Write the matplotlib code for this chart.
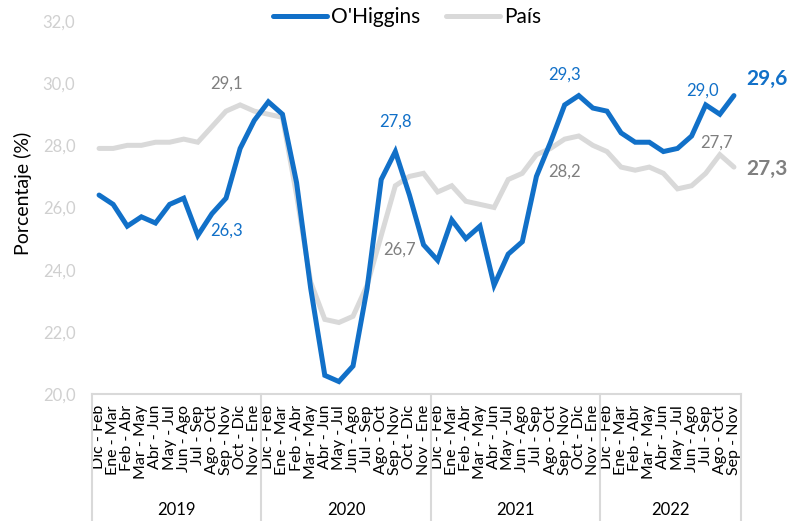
import matplotlib
matplotlib.use("Agg")
import matplotlib.pyplot as plt
from matplotlib.lines import Line2D
import matplotlib.transforms as mtransforms

plt.rcParams['font.family'] = ['Lato', 'DejaVu Sans']

periods = ["Dic - Feb", "Ene - Mar", "Feb - Abr", "Mar - May", "Abr - Jun", "May - Jul",
           "Jun - Ago", "Jul - Sep", "Ago - Oct", "Sep - Nov", "Oct - Dic", "Nov - Ene"]
years = ["2019", "2020", "2021", "2022"]
counts = [12, 12, 12, 10]
labels = []
for c in counts:
    labels += periods[:c]

ohiggins = [26.4, 26.1, 25.4, 25.7, 25.5, 26.1, 26.3, 25.1, 25.8, 26.3, 27.9, 28.8,
            29.4, 29.0, 26.8, 23.4, 20.6, 20.4, 20.9, 23.4, 26.9, 27.8, 26.4, 24.8,
            24.3, 25.6, 25.0, 25.4, 23.5, 24.5, 24.9, 27.0, 28.1, 29.3, 29.6, 29.2,
            29.1, 28.4, 28.1, 28.1, 27.8, 27.9, 28.3, 29.3, 29.0, 29.6]
pais = [27.9, 27.9, 28.0, 28.0, 28.1, 28.1, 28.2, 28.1, 28.6, 29.1, 29.3, 29.1,
        29.0, 28.9, 26.4, 23.6, 22.4, 22.3, 22.5, 23.5, 25.1, 26.7, 27.0, 27.1,
        26.5, 26.7, 26.2, 26.1, 26.0, 26.9, 27.1, 27.7, 27.9, 28.2, 28.3, 28.0,
        27.8, 27.3, 27.2, 27.3, 27.1, 26.6, 26.7, 27.1, 27.7, 27.3]

BLUE = '#1170c8'
GRAY = '#d9d9d9'
DGRAY = '#7f7f7f'
LW = 3.6

fig = plt.figure(figsize=(8.03, 5.21), dpi=100)
ax = fig.add_axes([92/803, 1-394/521, (741-92)/803, (394-21)/521])
x = list(range(len(labels)))
ax.plot(x, pais, color=GRAY, lw=LW, solid_capstyle='round', solid_joinstyle='miter', zorder=2)
ax.plot(x, ohiggins, color=BLUE, lw=LW, solid_capstyle='round', solid_joinstyle='miter', zorder=3)

ax.set_xlim(-0.5, len(labels) - 0.5)
ax.set_ylim(20, 32)
ax.set_yticks([20, 22, 24, 26, 28, 30, 32])
ax.set_yticklabels([f"{v:.1f}".replace('.', ',') for v in [20, 22, 24, 26, 28, 30, 32]],
                   color='#d0d0d0', fontsize=12)
ax.tick_params(axis='y', length=0, pad=12)
ax.set_xticks(x)
ax.set_xticklabels(labels, rotation=90, fontsize=11.5, color='black')
ax.tick_params(axis='x', length=0, pad=8)
for s in ['top', 'right', 'left']:
    ax.spines[s].set_visible(False)
ax.spines['bottom'].set_color(GRAY)
ax.spines['bottom'].set_linewidth(1.5)
ax.set_ylabel("Porcentaje (%)", fontsize=14, color='black', va='center')
ax.yaxis.set_label_coords((23 - 92) / 649, (394 - 193) / 373)

trans = mtransforms.blended_transform_factory(ax.transData, ax.transAxes)
start = -0.5
bottom_axes = -(521 - 394) / (394 - 21)
for yr, c in zip(years, counts):
    ax.add_line(Line2D([start, start], [0, bottom_axes], transform=trans, color=GRAY, lw=1.5, clip_on=False))
    ax.text(start + c / 2, -(510 - 394) / (394 - 21), yr, transform=trans, ha='center', va='center', fontsize=12)
    start += c
ax.add_line(Line2D([start, start], [0, bottom_axes], transform=trans, color=GRAY, lw=1.5, clip_on=False))

def lab(i, vals, dx, dy, color, size=12, weight='normal'):
    ax.annotate(f"{vals[i]:.1f}".replace('.', ','), (i, vals[i]), xytext=(dx, dy),
                textcoords='offset pixels', ha='center', va='center', color=color,
                fontsize=size, fontweight=weight)

lab(9, pais, 0, 28, DGRAY)
lab(9, ohiggins, 0, -32, BLUE)
lab(21, ohiggins, 0, 30, BLUE)
lab(21, pais, 4, -64, DGRAY)
lab(33, ohiggins, 0, 30, BLUE)
lab(33, pais, 0, -33, DGRAY)
lab(44, ohiggins, -17, 24, BLUE)
lab(44, pais, -3, 12, DGRAY)
lab(45, ohiggins, 33, 17, BLUE, size=15, weight='bold')
lab(45, pais, 33, -2, DGRAY, size=15, weight='bold')

handles = [Line2D([], [], color=BLUE, lw=LW, solid_capstyle='round'),
           Line2D([], [], color=GRAY, lw=LW, solid_capstyle='round')]
fig.legend(handles, ["O'Higgins", "País"], loc='center', bbox_to_anchor=(407/803, 1-17/521),
           ncol=2, frameon=False, fontsize=15, handlelength=2.6, columnspacing=1.2, handletextpad=0.2)

fig.savefig("out.png", dpi=100)
